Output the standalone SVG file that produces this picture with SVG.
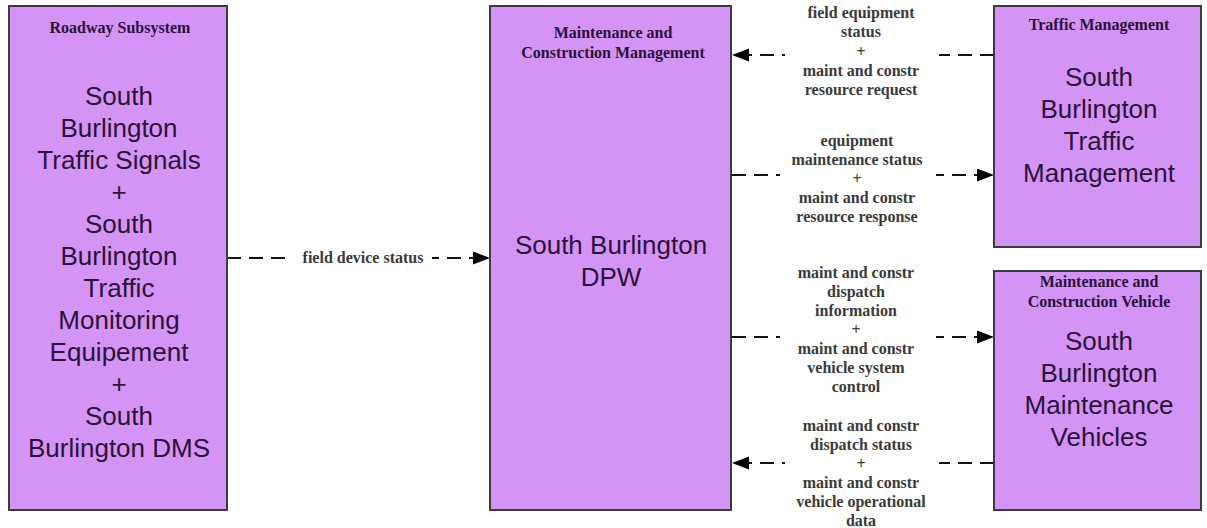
<svg xmlns="http://www.w3.org/2000/svg" width="1207" height="528" viewBox="0 0 1207 528">
<defs>
<style>
.box{fill:#d394f5;stroke:#3e3a44;stroke-width:2}
.hdr{font-family:"Liberation Serif",serif;font-weight:bold;font-size:16px;fill:#2b1238;text-anchor:middle}
.body{font-family:"Liberation Sans",Arial,sans-serif;font-size:26px;fill:#2b1238;text-anchor:middle}
.lbl{font-family:"Liberation Serif",serif;font-weight:bold;font-size:16px;fill:#3a3a3a;text-anchor:middle}
.flow{stroke:#111;stroke-width:2;fill:none;stroke-dasharray:14 8}
.mask{fill:#fff}
</style>
<marker id="arr" markerUnits="userSpaceOnUse" markerWidth="18" markerHeight="14" refX="17" refY="6.5" orient="auto">
<path d="M0,0 L17,6.5 L0,13 z" fill="#000"/>
</marker>
</defs>
<rect width="1207" height="528" fill="#fff"/>

<g id="connectors">
<line class="flow" x1="227" y1="258" x2="490" y2="258" marker-end="url(#arr)"/>
<rect class="mask" x="292" y="250" width="140" height="16"/>
<line class="flow" x1="994" y1="55" x2="732" y2="55" marker-end="url(#arr)"/>
<rect class="mask" x="785" y="47" width="154" height="16"/>
<line class="flow" x1="732" y1="175" x2="994" y2="175" marker-end="url(#arr)"/>
<rect class="mask" x="780" y="167" width="156" height="16"/>
<line class="flow" x1="732" y1="337" x2="994" y2="337" marker-end="url(#arr)"/>
<rect class="mask" x="780" y="329" width="156" height="16"/>
<line class="flow" x1="994" y1="463" x2="732" y2="463" marker-end="url(#arr)"/>
<rect class="mask" x="785" y="455" width="154" height="16"/>

<text class="lbl" x="363" y="263">field device status</text>
<text class="lbl" x="861"><tspan x="861" y="18">field equipment</tspan><tspan x="861" y="37">status</tspan><tspan x="861" y="57">+</tspan><tspan x="861" y="76">maint and constr</tspan><tspan x="861" y="95">resource  request</tspan></text>
<text class="lbl" x="857"><tspan x="857" y="146">equipment</tspan><tspan x="857" y="165">maintenance status</tspan><tspan x="857" y="184">+</tspan><tspan x="857" y="203">maint and constr</tspan><tspan x="857" y="222">resource response</tspan></text>
<text class="lbl" x="856"><tspan x="856" y="278">maint and constr</tspan><tspan x="856" y="297">dispatch</tspan><tspan x="856" y="316">information</tspan><tspan x="856" y="335">+</tspan><tspan x="856" y="354">maint and constr</tspan><tspan x="856" y="373">vehicle system</tspan><tspan x="856" y="392">control</tspan></text>
<text class="lbl" x="861"><tspan x="861" y="431">maint and constr</tspan><tspan x="861" y="450">dispatch status</tspan><tspan x="861" y="469">+</tspan><tspan x="861" y="488">maint and constr</tspan><tspan x="861" y="507">vehicle operational</tspan><tspan x="861" y="526">data</tspan></text>
</g>

<g id="roadway">
<rect class="box" x="9" y="6" width="218" height="504"/>
<text class="hdr" x="120" y="33">Roadway Subsystem</text>
<text class="body"><tspan x="119" y="105">South</tspan><tspan x="119" y="137">Burlington</tspan><tspan x="119" y="169">Traffic Signals</tspan><tspan x="119" y="201">+</tspan><tspan x="119" y="233">South</tspan><tspan x="119" y="265">Burlington</tspan><tspan x="119" y="297">Traffic</tspan><tspan x="119" y="329">Monitoring</tspan><tspan x="119" y="361">Equipement</tspan><tspan x="119" y="393">+</tspan><tspan x="119" y="425">South</tspan><tspan x="119" y="457">Burlington DMS</tspan></text>
</g>

<g id="mcm">
<rect class="box" x="490" y="6" width="241" height="504"/>
<text class="hdr"><tspan x="613" y="38">Maintenance and</tspan><tspan x="613" y="58">Construction Management</tspan></text>
<text class="body"><tspan x="611" y="254">South Burlington</tspan><tspan x="611" y="286">DPW</tspan></text>
</g>

<g id="traffic">
<rect class="box" x="994" y="6" width="207" height="241"/>
<text class="hdr" x="1099" y="30">Traffic Management</text>
<text class="body"><tspan x="1099" y="86">South</tspan><tspan x="1099" y="118">Burlington</tspan><tspan x="1099" y="150">Traffic</tspan><tspan x="1099" y="182">Management</tspan></text>
</g>

<g id="vehicle">
<rect class="box" x="994" y="271" width="207" height="239"/>
<text class="hdr"><tspan x="1099" y="287">Maintenance and</tspan><tspan x="1099" y="307">Construction Vehicle</tspan></text>
<text class="body"><tspan x="1099" y="350">South</tspan><tspan x="1099" y="382">Burlington</tspan><tspan x="1099" y="414">Maintenance</tspan><tspan x="1099" y="446">Vehicles</tspan></text>
</g>
</svg>
